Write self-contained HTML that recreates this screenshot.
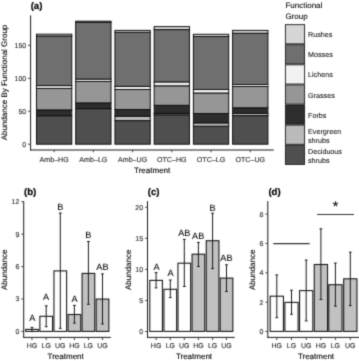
<!DOCTYPE html>
<html><head><meta charset="utf-8"><style>
html,body{margin:0;padding:0;background:#fff;}
body{width:359px;height:361px;overflow:hidden;}
svg{display:block;font-family:"Liberation Sans", sans-serif;will-change:transform;text-rendering:geometricPrecision;}
</style></head><body>
<svg width="359" height="361" viewBox="0 0 359 361">
<defs><filter id="bl" x="0" y="0" width="100%" height="100%" color-interpolation-filters="sRGB"><feConvolveMatrix order="3" kernelMatrix="0.02250 0.10500 0.02250 0.10500 0.49000 0.10500 0.02250 0.10500 0.02250" edgeMode="duplicate" preserveAlpha="true"/></filter></defs>
<g filter="url(#bl)">
<rect width="359" height="361" fill="#fff"/>
<text x="36.50" y="9.00" font-size="9.6" text-anchor="middle" fill="#000" stroke="#000" stroke-width="0.2" font-weight="bold" >(a)</text>
<rect x="36.48" y="115.70" width="35.30" height="28.50" fill="#4f4f4f" stroke="#111" stroke-width="1.0"/>
<rect x="36.48" y="109.90" width="35.30" height="5.80" fill="#2d2d2d" stroke="#111" stroke-width="1.0"/>
<rect x="36.48" y="88.40" width="35.30" height="21.50" fill="#969696" stroke="#111" stroke-width="1.0"/>
<rect x="36.48" y="85.60" width="35.30" height="2.80" fill="#f2f2f2" stroke="#111" stroke-width="1.0"/>
<rect x="36.48" y="36.00" width="35.30" height="49.60" fill="#6f6f6f" stroke="#111" stroke-width="1.0"/>
<rect x="36.48" y="34.20" width="35.30" height="1.80" fill="#d6d6d6" stroke="#111" stroke-width="1.0"/>
<rect x="75.71" y="108.60" width="35.30" height="35.60" fill="#4f4f4f" stroke="#111" stroke-width="1.0"/>
<rect x="75.71" y="102.90" width="35.30" height="5.70" fill="#2d2d2d" stroke="#111" stroke-width="1.0"/>
<rect x="75.71" y="81.50" width="35.30" height="21.40" fill="#969696" stroke="#111" stroke-width="1.0"/>
<rect x="75.71" y="79.10" width="35.30" height="2.40" fill="#f2f2f2" stroke="#111" stroke-width="1.0"/>
<rect x="75.71" y="22.40" width="35.30" height="56.70" fill="#6f6f6f" stroke="#111" stroke-width="1.0"/>
<rect x="75.71" y="21.20" width="35.30" height="1.20" fill="#d6d6d6" stroke="#111" stroke-width="1.0"/>
<rect x="114.94" y="120.60" width="35.30" height="23.60" fill="#4f4f4f" stroke="#111" stroke-width="1.0"/>
<rect x="114.94" y="116.20" width="35.30" height="4.40" fill="#bababa" stroke="#111" stroke-width="1.0"/>
<rect x="114.94" y="109.50" width="35.30" height="6.70" fill="#2d2d2d" stroke="#111" stroke-width="1.0"/>
<rect x="114.94" y="89.50" width="35.30" height="20.00" fill="#969696" stroke="#111" stroke-width="1.0"/>
<rect x="114.94" y="86.35" width="35.30" height="3.15" fill="#f2f2f2" stroke="#111" stroke-width="1.0"/>
<rect x="114.94" y="32.30" width="35.30" height="54.05" fill="#6f6f6f" stroke="#111" stroke-width="1.0"/>
<rect x="114.94" y="30.40" width="35.30" height="1.90" fill="#d6d6d6" stroke="#111" stroke-width="1.0"/>
<rect x="154.16" y="114.80" width="35.30" height="29.40" fill="#4f4f4f" stroke="#111" stroke-width="1.0"/>
<rect x="154.16" y="113.40" width="35.30" height="1.40" fill="#bababa" stroke="#111" stroke-width="1.0"/>
<rect x="154.16" y="105.30" width="35.30" height="8.10" fill="#2d2d2d" stroke="#111" stroke-width="1.0"/>
<rect x="154.16" y="85.80" width="35.30" height="19.50" fill="#969696" stroke="#111" stroke-width="1.0"/>
<rect x="154.16" y="81.90" width="35.30" height="3.90" fill="#f2f2f2" stroke="#111" stroke-width="1.0"/>
<rect x="154.16" y="29.60" width="35.30" height="52.30" fill="#6f6f6f" stroke="#111" stroke-width="1.0"/>
<rect x="154.16" y="26.60" width="35.30" height="3.00" fill="#d6d6d6" stroke="#111" stroke-width="1.0"/>
<rect x="193.39" y="126.20" width="35.30" height="18.00" fill="#4f4f4f" stroke="#111" stroke-width="1.0"/>
<rect x="193.39" y="122.90" width="35.30" height="3.30" fill="#bababa" stroke="#111" stroke-width="1.0"/>
<rect x="193.39" y="113.50" width="35.30" height="9.40" fill="#2d2d2d" stroke="#111" stroke-width="1.0"/>
<rect x="193.39" y="93.00" width="35.30" height="20.50" fill="#969696" stroke="#111" stroke-width="1.0"/>
<rect x="193.39" y="89.50" width="35.30" height="3.50" fill="#f2f2f2" stroke="#111" stroke-width="1.0"/>
<rect x="193.39" y="36.50" width="35.30" height="53.00" fill="#6f6f6f" stroke="#111" stroke-width="1.0"/>
<rect x="193.39" y="34.30" width="35.30" height="2.20" fill="#d6d6d6" stroke="#111" stroke-width="1.0"/>
<rect x="232.61" y="115.60" width="35.30" height="28.60" fill="#4f4f4f" stroke="#111" stroke-width="1.0"/>
<rect x="232.61" y="113.50" width="35.30" height="2.10" fill="#bababa" stroke="#111" stroke-width="1.0"/>
<rect x="232.61" y="107.80" width="35.30" height="5.70" fill="#2d2d2d" stroke="#111" stroke-width="1.0"/>
<rect x="232.61" y="86.50" width="35.30" height="21.30" fill="#969696" stroke="#111" stroke-width="1.0"/>
<rect x="232.61" y="84.50" width="35.30" height="2.00" fill="#f2f2f2" stroke="#111" stroke-width="1.0"/>
<rect x="232.61" y="33.20" width="35.30" height="51.30" fill="#6f6f6f" stroke="#111" stroke-width="1.0"/>
<rect x="232.61" y="30.40" width="35.30" height="2.80" fill="#d6d6d6" stroke="#111" stroke-width="1.0"/>
<line x1="30.60" y1="15.35" x2="30.60" y2="150.50" stroke="#1a1a1a" stroke-width="1.0"/>
<line x1="30.10" y1="150.00" x2="273.80" y2="150.00" stroke="#1a1a1a" stroke-width="1.0"/>
<line x1="28.00" y1="144.20" x2="30.60" y2="144.20" stroke="#333333" stroke-width="0.9"/>
<text x="26.20" y="147.10" font-size="7.0" text-anchor="end" fill="#333333" stroke="#333333" stroke-width="0.14" font-weight="normal" >0</text>
<line x1="28.00" y1="111.23" x2="30.60" y2="111.23" stroke="#333333" stroke-width="0.9"/>
<text x="26.20" y="114.13" font-size="7.0" text-anchor="end" fill="#333333" stroke="#333333" stroke-width="0.14" font-weight="normal" >50</text>
<line x1="28.00" y1="78.27" x2="30.60" y2="78.27" stroke="#333333" stroke-width="0.9"/>
<text x="26.20" y="81.17" font-size="7.0" text-anchor="end" fill="#333333" stroke="#333333" stroke-width="0.14" font-weight="normal" >100</text>
<line x1="28.00" y1="45.30" x2="30.60" y2="45.30" stroke="#333333" stroke-width="0.9"/>
<text x="26.20" y="48.20" font-size="7.0" text-anchor="end" fill="#333333" stroke="#333333" stroke-width="0.14" font-weight="normal" >150</text>
<line x1="54.14" y1="150.00" x2="54.14" y2="152.30" stroke="#333333" stroke-width="0.9"/>
<text x="54.14" y="161.70" font-size="7.1" text-anchor="middle" fill="#333333" stroke="#333333" stroke-width="0.14" font-weight="normal" >Amb–HG</text>
<line x1="93.36" y1="150.00" x2="93.36" y2="152.30" stroke="#333333" stroke-width="0.9"/>
<text x="93.36" y="161.70" font-size="7.1" text-anchor="middle" fill="#333333" stroke="#333333" stroke-width="0.14" font-weight="normal" >Amb–LG</text>
<line x1="132.59" y1="150.00" x2="132.59" y2="152.30" stroke="#333333" stroke-width="0.9"/>
<text x="132.59" y="161.70" font-size="7.1" text-anchor="middle" fill="#333333" stroke="#333333" stroke-width="0.14" font-weight="normal" >Amb–UG</text>
<line x1="171.81" y1="150.00" x2="171.81" y2="152.30" stroke="#333333" stroke-width="0.9"/>
<text x="171.81" y="161.70" font-size="7.1" text-anchor="middle" fill="#333333" stroke="#333333" stroke-width="0.14" font-weight="normal" >OTC–HG</text>
<line x1="211.04" y1="150.00" x2="211.04" y2="152.30" stroke="#333333" stroke-width="0.9"/>
<text x="211.04" y="161.70" font-size="7.1" text-anchor="middle" fill="#333333" stroke="#333333" stroke-width="0.14" font-weight="normal" >OTC–LG</text>
<line x1="250.26" y1="150.00" x2="250.26" y2="152.30" stroke="#333333" stroke-width="0.9"/>
<text x="250.26" y="161.70" font-size="7.1" text-anchor="middle" fill="#333333" stroke="#333333" stroke-width="0.14" font-weight="normal" >OTC–UG</text>
<text x="152.20" y="173.20" font-size="8.0" text-anchor="middle" fill="#000" stroke="#000" stroke-width="0.12" font-weight="normal" >Treatment</text>
<text transform="translate(6.5,82.5) rotate(-90)" font-size="8.0" text-anchor="middle" fill="#000" stroke="#000" stroke-width="0.1">Abundance By Functional Group</text>
<text x="285.40" y="7.60" font-size="8.0" text-anchor="start" fill="#000" stroke="#000" stroke-width="0.08" font-weight="normal" >Functional</text>
<text x="285.40" y="18.50" font-size="8.0" text-anchor="start" fill="#000" stroke="#000" stroke-width="0.08" font-weight="normal" >Group</text>
<rect x="285.40" y="24.65" width="19.20" height="19.19" fill="#d6d6d6" stroke="#1a1a1a" stroke-width="0.9"/>
<text x="308.00" y="37.30" font-size="7.2" text-anchor="start" fill="#1a1a1a" stroke="#1a1a1a" stroke-width="0.1" font-weight="normal" >Rushes</text>
<rect x="285.40" y="44.74" width="19.20" height="19.19" fill="#6f6f6f" stroke="#1a1a1a" stroke-width="0.9"/>
<text x="308.00" y="57.39" font-size="7.2" text-anchor="start" fill="#1a1a1a" stroke="#1a1a1a" stroke-width="0.1" font-weight="normal" >Mosses</text>
<rect x="285.40" y="64.83" width="19.20" height="19.19" fill="#f2f2f2" stroke="#1a1a1a" stroke-width="0.9"/>
<text x="308.00" y="77.48" font-size="7.2" text-anchor="start" fill="#1a1a1a" stroke="#1a1a1a" stroke-width="0.1" font-weight="normal" >Lichens</text>
<rect x="285.40" y="84.92" width="19.20" height="19.19" fill="#969696" stroke="#1a1a1a" stroke-width="0.9"/>
<text x="308.00" y="97.57" font-size="7.2" text-anchor="start" fill="#1a1a1a" stroke="#1a1a1a" stroke-width="0.1" font-weight="normal" >Grasses</text>
<rect x="285.40" y="105.01" width="19.20" height="19.19" fill="#2d2d2d" stroke="#1a1a1a" stroke-width="0.9"/>
<text x="308.00" y="117.66" font-size="7.2" text-anchor="start" fill="#1a1a1a" stroke="#1a1a1a" stroke-width="0.1" font-weight="normal" >Forbs</text>
<rect x="285.40" y="125.10" width="19.20" height="19.19" fill="#bababa" stroke="#1a1a1a" stroke-width="0.9"/>
<text x="308.00" y="134.25" font-size="7.2" text-anchor="start" fill="#1a1a1a" stroke="#1a1a1a" stroke-width="0.1" font-weight="normal" >Evergreen</text>
<text x="308.00" y="143.05" font-size="7.2" text-anchor="start" fill="#1a1a1a" stroke="#1a1a1a" stroke-width="0.1" font-weight="normal" >shrubs</text>
<rect x="285.40" y="145.19" width="19.20" height="19.19" fill="#4f4f4f" stroke="#1a1a1a" stroke-width="0.9"/>
<text x="308.00" y="154.34" font-size="7.2" text-anchor="start" fill="#1a1a1a" stroke="#1a1a1a" stroke-width="0.1" font-weight="normal" >Deciduous</text>
<text x="308.00" y="163.14" font-size="7.2" text-anchor="start" fill="#1a1a1a" stroke="#1a1a1a" stroke-width="0.1" font-weight="normal" >shrubs</text>
<text x="30.20" y="195.00" font-size="9.6" text-anchor="middle" fill="#000" stroke="#000" stroke-width="0.2" font-weight="bold" >(b)</text>
<rect x="25.66" y="329.40" width="12.67" height="2.00" fill="#ffffff" stroke="#1a1a1a" stroke-width="1.1"/>
<rect x="39.87" y="316.30" width="12.67" height="15.10" fill="#ffffff" stroke="#1a1a1a" stroke-width="1.1"/>
<rect x="53.96" y="270.90" width="12.67" height="60.50" fill="#ffffff" stroke="#1a1a1a" stroke-width="1.1"/>
<rect x="68.07" y="314.50" width="12.67" height="16.90" fill="#c1c1c1" stroke="#1a1a1a" stroke-width="1.1"/>
<rect x="82.07" y="273.40" width="12.67" height="58.00" fill="#c1c1c1" stroke="#1a1a1a" stroke-width="1.1"/>
<rect x="96.17" y="299.10" width="12.67" height="32.30" fill="#c1c1c1" stroke="#1a1a1a" stroke-width="1.1"/>
<line x1="32.00" y1="327.40" x2="32.00" y2="331.40" stroke="#1a1a1a" stroke-width="1.0"/>
<line x1="30.60" y1="327.40" x2="33.40" y2="327.40" stroke="#1a1a1a" stroke-width="1.0"/>
<line x1="30.60" y1="331.40" x2="33.40" y2="331.40" stroke="#1a1a1a" stroke-width="1.0"/>
<line x1="46.20" y1="305.80" x2="46.20" y2="326.70" stroke="#1a1a1a" stroke-width="1.0"/>
<line x1="44.80" y1="305.80" x2="47.60" y2="305.80" stroke="#1a1a1a" stroke-width="1.0"/>
<line x1="44.80" y1="326.70" x2="47.60" y2="326.70" stroke="#1a1a1a" stroke-width="1.0"/>
<line x1="60.30" y1="213.00" x2="60.30" y2="328.40" stroke="#1a1a1a" stroke-width="1.0"/>
<line x1="58.90" y1="213.00" x2="61.70" y2="213.00" stroke="#1a1a1a" stroke-width="1.0"/>
<line x1="58.90" y1="328.40" x2="61.70" y2="328.40" stroke="#1a1a1a" stroke-width="1.0"/>
<line x1="74.40" y1="305.40" x2="74.40" y2="323.10" stroke="#1a1a1a" stroke-width="1.0"/>
<line x1="73.00" y1="305.40" x2="75.80" y2="305.40" stroke="#1a1a1a" stroke-width="1.0"/>
<line x1="73.00" y1="323.10" x2="75.80" y2="323.10" stroke="#1a1a1a" stroke-width="1.0"/>
<line x1="88.40" y1="241.50" x2="88.40" y2="304.30" stroke="#1a1a1a" stroke-width="1.0"/>
<line x1="87.00" y1="241.50" x2="89.80" y2="241.50" stroke="#1a1a1a" stroke-width="1.0"/>
<line x1="87.00" y1="304.30" x2="89.80" y2="304.30" stroke="#1a1a1a" stroke-width="1.0"/>
<line x1="102.50" y1="273.90" x2="102.50" y2="324.00" stroke="#1a1a1a" stroke-width="1.0"/>
<line x1="101.10" y1="273.90" x2="103.90" y2="273.90" stroke="#1a1a1a" stroke-width="1.0"/>
<line x1="101.10" y1="324.00" x2="103.90" y2="324.00" stroke="#1a1a1a" stroke-width="1.0"/>
<line x1="23.70" y1="201.10" x2="23.70" y2="337.90" stroke="#1a1a1a" stroke-width="1.0"/>
<line x1="23.20" y1="337.40" x2="110.80" y2="337.40" stroke="#1a1a1a" stroke-width="1.0"/>
<line x1="21.30" y1="331.40" x2="23.70" y2="331.40" stroke="#333333" stroke-width="0.9"/>
<text x="19.30" y="333.90" font-size="7.0" text-anchor="end" fill="#333333" stroke="#333333" stroke-width="0.14" font-weight="normal" >0</text>
<line x1="21.30" y1="298.97" x2="23.70" y2="298.97" stroke="#333333" stroke-width="0.9"/>
<text x="19.30" y="301.47" font-size="7.0" text-anchor="end" fill="#333333" stroke="#333333" stroke-width="0.14" font-weight="normal" >3</text>
<line x1="21.30" y1="266.54" x2="23.70" y2="266.54" stroke="#333333" stroke-width="0.9"/>
<text x="19.30" y="269.04" font-size="7.0" text-anchor="end" fill="#333333" stroke="#333333" stroke-width="0.14" font-weight="normal" >6</text>
<line x1="21.30" y1="234.11" x2="23.70" y2="234.11" stroke="#333333" stroke-width="0.9"/>
<text x="19.30" y="236.61" font-size="7.0" text-anchor="end" fill="#333333" stroke="#333333" stroke-width="0.14" font-weight="normal" >9</text>
<line x1="21.30" y1="201.68" x2="23.70" y2="201.68" stroke="#333333" stroke-width="0.9"/>
<text x="19.30" y="204.18" font-size="7.0" text-anchor="end" fill="#333333" stroke="#333333" stroke-width="0.14" font-weight="normal" >12</text>
<line x1="32.00" y1="337.40" x2="32.00" y2="340.10" stroke="#333333" stroke-width="0.9"/>
<text x="32.00" y="347.60" font-size="7.0" text-anchor="middle" fill="#333333" stroke="#333333" stroke-width="0.14" font-weight="normal" >HG</text>
<line x1="46.20" y1="337.40" x2="46.20" y2="340.10" stroke="#333333" stroke-width="0.9"/>
<text x="46.20" y="347.60" font-size="7.0" text-anchor="middle" fill="#333333" stroke="#333333" stroke-width="0.14" font-weight="normal" >LG</text>
<line x1="60.30" y1="337.40" x2="60.30" y2="340.10" stroke="#333333" stroke-width="0.9"/>
<text x="60.30" y="347.60" font-size="7.0" text-anchor="middle" fill="#333333" stroke="#333333" stroke-width="0.14" font-weight="normal" >UG</text>
<line x1="74.40" y1="337.40" x2="74.40" y2="340.10" stroke="#333333" stroke-width="0.9"/>
<text x="74.40" y="347.60" font-size="7.0" text-anchor="middle" fill="#333333" stroke="#333333" stroke-width="0.14" font-weight="normal" >HG</text>
<line x1="88.40" y1="337.40" x2="88.40" y2="340.10" stroke="#333333" stroke-width="0.9"/>
<text x="88.40" y="347.60" font-size="7.0" text-anchor="middle" fill="#333333" stroke="#333333" stroke-width="0.14" font-weight="normal" >LG</text>
<line x1="102.50" y1="337.40" x2="102.50" y2="340.10" stroke="#333333" stroke-width="0.9"/>
<text x="102.50" y="347.60" font-size="7.0" text-anchor="middle" fill="#333333" stroke="#333333" stroke-width="0.14" font-weight="normal" >UG</text>
<text x="65.70" y="359.20" font-size="8.0" text-anchor="middle" fill="#000" stroke="#000" stroke-width="0.12" font-weight="normal" >Treatment</text>
<text transform="translate(6.80,269.85) rotate(-90)" font-size="8.0" text-anchor="middle" fill="#000" stroke="#000" stroke-width="0.1">Abundance</text>
<text x="32.25" y="321.10" font-size="9.2" text-anchor="middle" fill="#000" stroke="#000" stroke-width="0.05" font-weight="normal" >A</text>
<text x="46.15" y="299.80" font-size="9.2" text-anchor="middle" fill="#000" stroke="#000" stroke-width="0.05" font-weight="normal" >A</text>
<text x="60.25" y="210.40" font-size="9.2" text-anchor="middle" fill="#000" stroke="#000" stroke-width="0.05" font-weight="normal" >B</text>
<text x="74.50" y="302.30" font-size="9.2" text-anchor="middle" fill="#000" stroke="#000" stroke-width="0.05" font-weight="normal" >A</text>
<text x="88.40" y="237.50" font-size="9.2" text-anchor="middle" fill="#000" stroke="#000" stroke-width="0.05" font-weight="normal" >B</text>
<text x="102.40" y="269.80" font-size="9.2" text-anchor="middle" fill="#000" stroke="#000" stroke-width="0.05" font-weight="normal" >AB</text>
<text x="153.60" y="195.00" font-size="9.6" text-anchor="middle" fill="#000" stroke="#000" stroke-width="0.2" font-weight="bold" >(c)</text>
<rect x="149.76" y="280.40" width="12.67" height="51.00" fill="#ffffff" stroke="#1a1a1a" stroke-width="1.1"/>
<rect x="163.97" y="289.30" width="12.67" height="42.10" fill="#ffffff" stroke="#1a1a1a" stroke-width="1.1"/>
<rect x="177.97" y="263.20" width="12.67" height="68.20" fill="#ffffff" stroke="#1a1a1a" stroke-width="1.1"/>
<rect x="192.06" y="254.20" width="12.67" height="77.20" fill="#c1c1c1" stroke="#1a1a1a" stroke-width="1.1"/>
<rect x="206.26" y="240.70" width="12.67" height="90.70" fill="#c1c1c1" stroke="#1a1a1a" stroke-width="1.1"/>
<rect x="220.16" y="278.10" width="12.67" height="53.30" fill="#c1c1c1" stroke="#1a1a1a" stroke-width="1.1"/>
<line x1="156.10" y1="272.60" x2="156.10" y2="287.90" stroke="#1a1a1a" stroke-width="1.0"/>
<line x1="154.70" y1="272.60" x2="157.50" y2="272.60" stroke="#1a1a1a" stroke-width="1.0"/>
<line x1="154.70" y1="287.90" x2="157.50" y2="287.90" stroke="#1a1a1a" stroke-width="1.0"/>
<line x1="170.30" y1="280.00" x2="170.30" y2="297.60" stroke="#1a1a1a" stroke-width="1.0"/>
<line x1="168.90" y1="280.00" x2="171.70" y2="280.00" stroke="#1a1a1a" stroke-width="1.0"/>
<line x1="168.90" y1="297.60" x2="171.70" y2="297.60" stroke="#1a1a1a" stroke-width="1.0"/>
<line x1="184.30" y1="239.40" x2="184.30" y2="286.50" stroke="#1a1a1a" stroke-width="1.0"/>
<line x1="182.90" y1="239.40" x2="185.70" y2="239.40" stroke="#1a1a1a" stroke-width="1.0"/>
<line x1="182.90" y1="286.50" x2="185.70" y2="286.50" stroke="#1a1a1a" stroke-width="1.0"/>
<line x1="198.40" y1="242.40" x2="198.40" y2="266.50" stroke="#1a1a1a" stroke-width="1.0"/>
<line x1="197.00" y1="242.40" x2="199.80" y2="242.40" stroke="#1a1a1a" stroke-width="1.0"/>
<line x1="197.00" y1="266.50" x2="199.80" y2="266.50" stroke="#1a1a1a" stroke-width="1.0"/>
<line x1="212.60" y1="213.20" x2="212.60" y2="268.60" stroke="#1a1a1a" stroke-width="1.0"/>
<line x1="211.20" y1="213.20" x2="214.00" y2="213.20" stroke="#1a1a1a" stroke-width="1.0"/>
<line x1="211.20" y1="268.60" x2="214.00" y2="268.60" stroke="#1a1a1a" stroke-width="1.0"/>
<line x1="226.50" y1="264.80" x2="226.50" y2="291.50" stroke="#1a1a1a" stroke-width="1.0"/>
<line x1="225.10" y1="264.80" x2="227.90" y2="264.80" stroke="#1a1a1a" stroke-width="1.0"/>
<line x1="225.10" y1="291.50" x2="227.90" y2="291.50" stroke="#1a1a1a" stroke-width="1.0"/>
<line x1="147.50" y1="201.10" x2="147.50" y2="337.90" stroke="#1a1a1a" stroke-width="1.0"/>
<line x1="147.00" y1="337.40" x2="234.80" y2="337.40" stroke="#1a1a1a" stroke-width="1.0"/>
<line x1="145.10" y1="331.50" x2="147.50" y2="331.50" stroke="#333333" stroke-width="0.9"/>
<text x="143.10" y="334.00" font-size="7.0" text-anchor="end" fill="#333333" stroke="#333333" stroke-width="0.14" font-weight="normal" >0</text>
<line x1="145.10" y1="300.44" x2="147.50" y2="300.44" stroke="#333333" stroke-width="0.9"/>
<text x="143.10" y="302.94" font-size="7.0" text-anchor="end" fill="#333333" stroke="#333333" stroke-width="0.14" font-weight="normal" >5</text>
<line x1="145.10" y1="269.37" x2="147.50" y2="269.37" stroke="#333333" stroke-width="0.9"/>
<text x="143.10" y="271.87" font-size="7.0" text-anchor="end" fill="#333333" stroke="#333333" stroke-width="0.14" font-weight="normal" >10</text>
<line x1="145.10" y1="238.31" x2="147.50" y2="238.31" stroke="#333333" stroke-width="0.9"/>
<text x="143.10" y="240.81" font-size="7.0" text-anchor="end" fill="#333333" stroke="#333333" stroke-width="0.14" font-weight="normal" >15</text>
<line x1="145.10" y1="207.24" x2="147.50" y2="207.24" stroke="#333333" stroke-width="0.9"/>
<text x="143.10" y="209.74" font-size="7.0" text-anchor="end" fill="#333333" stroke="#333333" stroke-width="0.14" font-weight="normal" >20</text>
<line x1="156.10" y1="337.40" x2="156.10" y2="340.10" stroke="#333333" stroke-width="0.9"/>
<text x="156.10" y="347.60" font-size="7.0" text-anchor="middle" fill="#333333" stroke="#333333" stroke-width="0.14" font-weight="normal" >HG</text>
<line x1="170.30" y1="337.40" x2="170.30" y2="340.10" stroke="#333333" stroke-width="0.9"/>
<text x="170.30" y="347.60" font-size="7.0" text-anchor="middle" fill="#333333" stroke="#333333" stroke-width="0.14" font-weight="normal" >LG</text>
<line x1="184.30" y1="337.40" x2="184.30" y2="340.10" stroke="#333333" stroke-width="0.9"/>
<text x="184.30" y="347.60" font-size="7.0" text-anchor="middle" fill="#333333" stroke="#333333" stroke-width="0.14" font-weight="normal" >UG</text>
<line x1="198.40" y1="337.40" x2="198.40" y2="340.10" stroke="#333333" stroke-width="0.9"/>
<text x="198.40" y="347.60" font-size="7.0" text-anchor="middle" fill="#333333" stroke="#333333" stroke-width="0.14" font-weight="normal" >HG</text>
<line x1="212.60" y1="337.40" x2="212.60" y2="340.10" stroke="#333333" stroke-width="0.9"/>
<text x="212.60" y="347.60" font-size="7.0" text-anchor="middle" fill="#333333" stroke="#333333" stroke-width="0.14" font-weight="normal" >LG</text>
<line x1="226.50" y1="337.40" x2="226.50" y2="340.10" stroke="#333333" stroke-width="0.9"/>
<text x="226.50" y="347.60" font-size="7.0" text-anchor="middle" fill="#333333" stroke="#333333" stroke-width="0.14" font-weight="normal" >UG</text>
<text x="194.00" y="359.20" font-size="8.0" text-anchor="middle" fill="#000" stroke="#000" stroke-width="0.12" font-weight="normal" >Treatment</text>
<text transform="translate(131.00,269.85) rotate(-90)" font-size="8.0" text-anchor="middle" fill="#000" stroke="#000" stroke-width="0.1">Abundance</text>
<text x="156.50" y="269.50" font-size="9.2" text-anchor="middle" fill="#000" stroke="#000" stroke-width="0.05" font-weight="normal" >A</text>
<text x="170.45" y="275.80" font-size="9.2" text-anchor="middle" fill="#000" stroke="#000" stroke-width="0.05" font-weight="normal" >A</text>
<text x="184.35" y="235.50" font-size="9.2" text-anchor="middle" fill="#000" stroke="#000" stroke-width="0.05" font-weight="normal" >AB</text>
<text x="198.20" y="238.70" font-size="9.2" text-anchor="middle" fill="#000" stroke="#000" stroke-width="0.05" font-weight="normal" >AB</text>
<text x="212.50" y="210.90" font-size="9.2" text-anchor="middle" fill="#000" stroke="#000" stroke-width="0.05" font-weight="normal" >B</text>
<text x="226.45" y="260.60" font-size="9.2" text-anchor="middle" fill="#000" stroke="#000" stroke-width="0.05" font-weight="normal" >AB</text>
<text x="274.50" y="195.00" font-size="9.6" text-anchor="middle" fill="#000" stroke="#000" stroke-width="0.2" font-weight="bold" >(d)</text>
<rect x="270.18" y="296.20" width="13.25" height="35.20" fill="#ffffff" stroke="#1a1a1a" stroke-width="1.1"/>
<rect x="284.88" y="302.40" width="13.25" height="29.00" fill="#ffffff" stroke="#1a1a1a" stroke-width="1.1"/>
<rect x="299.57" y="290.60" width="13.25" height="40.80" fill="#ffffff" stroke="#1a1a1a" stroke-width="1.1"/>
<rect x="314.27" y="264.50" width="13.25" height="66.90" fill="#c1c1c1" stroke="#1a1a1a" stroke-width="1.1"/>
<rect x="328.77" y="284.70" width="13.25" height="46.70" fill="#c1c1c1" stroke="#1a1a1a" stroke-width="1.1"/>
<rect x="343.68" y="278.80" width="13.25" height="52.60" fill="#c1c1c1" stroke="#1a1a1a" stroke-width="1.1"/>
<line x1="276.80" y1="274.90" x2="276.80" y2="317.70" stroke="#1a1a1a" stroke-width="1.0"/>
<line x1="275.40" y1="274.90" x2="278.20" y2="274.90" stroke="#1a1a1a" stroke-width="1.0"/>
<line x1="275.40" y1="317.70" x2="278.20" y2="317.70" stroke="#1a1a1a" stroke-width="1.0"/>
<line x1="291.50" y1="290.20" x2="291.50" y2="314.30" stroke="#1a1a1a" stroke-width="1.0"/>
<line x1="290.10" y1="290.20" x2="292.90" y2="290.20" stroke="#1a1a1a" stroke-width="1.0"/>
<line x1="290.10" y1="314.30" x2="292.90" y2="314.30" stroke="#1a1a1a" stroke-width="1.0"/>
<line x1="306.20" y1="260.10" x2="306.20" y2="320.90" stroke="#1a1a1a" stroke-width="1.0"/>
<line x1="304.80" y1="260.10" x2="307.60" y2="260.10" stroke="#1a1a1a" stroke-width="1.0"/>
<line x1="304.80" y1="320.90" x2="307.60" y2="320.90" stroke="#1a1a1a" stroke-width="1.0"/>
<line x1="320.90" y1="228.80" x2="320.90" y2="299.50" stroke="#1a1a1a" stroke-width="1.0"/>
<line x1="319.50" y1="228.80" x2="322.30" y2="228.80" stroke="#1a1a1a" stroke-width="1.0"/>
<line x1="319.50" y1="299.50" x2="322.30" y2="299.50" stroke="#1a1a1a" stroke-width="1.0"/>
<line x1="335.40" y1="263.10" x2="335.40" y2="306.10" stroke="#1a1a1a" stroke-width="1.0"/>
<line x1="334.00" y1="263.10" x2="336.80" y2="263.10" stroke="#1a1a1a" stroke-width="1.0"/>
<line x1="334.00" y1="306.10" x2="336.80" y2="306.10" stroke="#1a1a1a" stroke-width="1.0"/>
<line x1="350.30" y1="252.20" x2="350.30" y2="305.60" stroke="#1a1a1a" stroke-width="1.0"/>
<line x1="348.90" y1="252.20" x2="351.70" y2="252.20" stroke="#1a1a1a" stroke-width="1.0"/>
<line x1="348.90" y1="305.60" x2="351.70" y2="305.60" stroke="#1a1a1a" stroke-width="1.0"/>
<line x1="267.80" y1="201.10" x2="267.80" y2="337.90" stroke="#1a1a1a" stroke-width="1.0"/>
<line x1="267.30" y1="337.40" x2="359.50" y2="337.40" stroke="#1a1a1a" stroke-width="1.0"/>
<line x1="265.40" y1="331.50" x2="267.80" y2="331.50" stroke="#333333" stroke-width="0.9"/>
<text x="263.40" y="334.00" font-size="7.0" text-anchor="end" fill="#333333" stroke="#333333" stroke-width="0.14" font-weight="normal" >0</text>
<line x1="265.40" y1="302.15" x2="267.80" y2="302.15" stroke="#333333" stroke-width="0.9"/>
<text x="263.40" y="304.65" font-size="7.0" text-anchor="end" fill="#333333" stroke="#333333" stroke-width="0.14" font-weight="normal" >2</text>
<line x1="265.40" y1="272.80" x2="267.80" y2="272.80" stroke="#333333" stroke-width="0.9"/>
<text x="263.40" y="275.30" font-size="7.0" text-anchor="end" fill="#333333" stroke="#333333" stroke-width="0.14" font-weight="normal" >4</text>
<line x1="265.40" y1="243.45" x2="267.80" y2="243.45" stroke="#333333" stroke-width="0.9"/>
<text x="263.40" y="245.95" font-size="7.0" text-anchor="end" fill="#333333" stroke="#333333" stroke-width="0.14" font-weight="normal" >6</text>
<line x1="265.40" y1="214.10" x2="267.80" y2="214.10" stroke="#333333" stroke-width="0.9"/>
<text x="263.40" y="216.60" font-size="7.0" text-anchor="end" fill="#333333" stroke="#333333" stroke-width="0.14" font-weight="normal" >8</text>
<line x1="276.80" y1="337.40" x2="276.80" y2="340.10" stroke="#333333" stroke-width="0.9"/>
<text x="276.80" y="347.60" font-size="7.0" text-anchor="middle" fill="#333333" stroke="#333333" stroke-width="0.14" font-weight="normal" >HG</text>
<line x1="291.50" y1="337.40" x2="291.50" y2="340.10" stroke="#333333" stroke-width="0.9"/>
<text x="291.50" y="347.60" font-size="7.0" text-anchor="middle" fill="#333333" stroke="#333333" stroke-width="0.14" font-weight="normal" >LG</text>
<line x1="306.20" y1="337.40" x2="306.20" y2="340.10" stroke="#333333" stroke-width="0.9"/>
<text x="306.20" y="347.60" font-size="7.0" text-anchor="middle" fill="#333333" stroke="#333333" stroke-width="0.14" font-weight="normal" >UG</text>
<line x1="320.90" y1="337.40" x2="320.90" y2="340.10" stroke="#333333" stroke-width="0.9"/>
<text x="320.90" y="347.60" font-size="7.0" text-anchor="middle" fill="#333333" stroke="#333333" stroke-width="0.14" font-weight="normal" >HG</text>
<line x1="335.40" y1="337.40" x2="335.40" y2="340.10" stroke="#333333" stroke-width="0.9"/>
<text x="335.40" y="347.60" font-size="7.0" text-anchor="middle" fill="#333333" stroke="#333333" stroke-width="0.14" font-weight="normal" >LG</text>
<line x1="350.30" y1="337.40" x2="350.30" y2="340.10" stroke="#333333" stroke-width="0.9"/>
<text x="350.30" y="347.60" font-size="7.0" text-anchor="middle" fill="#333333" stroke="#333333" stroke-width="0.14" font-weight="normal" >UG</text>
<text x="316.00" y="359.20" font-size="8.0" text-anchor="middle" fill="#000" stroke="#000" stroke-width="0.12" font-weight="normal" >Treatment</text>
<text transform="translate(255.00,269.85) rotate(-90)" font-size="8.0" text-anchor="middle" fill="#000" stroke="#000" stroke-width="0.1">Abundance</text>
<line x1="273.30" y1="243.60" x2="309.70" y2="243.60" stroke="#333333" stroke-width="1.1"/>
<line x1="317.10" y1="214.50" x2="354.00" y2="214.50" stroke="#333333" stroke-width="1.1"/>
<text x="335.50" y="211.10" font-size="14" text-anchor="middle" fill="#000" stroke="#000" stroke-width="0.14" font-weight="normal" >*</text>
</g>
</svg>
</body></html>
